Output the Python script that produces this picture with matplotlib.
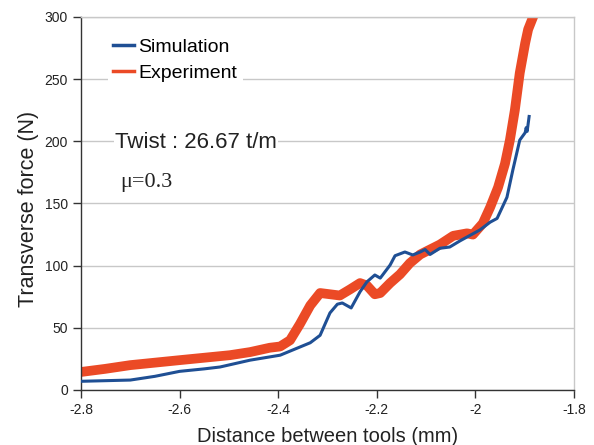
import matplotlib
matplotlib.use('Agg')
import matplotlib.pyplot as plt

# Simulation curve
sim_x = [-2.800, -2.700, -2.650, -2.600, -2.550, -2.518, -2.457, -2.396, -2.335,
         -2.315, -2.295, -2.280, -2.270, -2.252, -2.234, -2.220, -2.204, -2.193,
         -2.173, -2.163, -2.143, -2.127, -2.112, -2.102, -2.092, -2.072, -2.052,
         -2.031, -1.991, -1.970, -1.956, -1.936, -1.924, -1.910, -1.899, -1.897,
         -1.895, -1.891]
sim_y = [7, 8, 11, 15, 17, 18.5, 24, 28, 38,
         44, 62, 69, 70, 66, 79, 87, 92.5, 90,
         100.5, 108, 111, 108.6, 111, 113, 109, 114, 115,
         120, 128.7, 135, 138, 155, 177, 201, 207, 211,
         208, 220]

# Experiment curve (centre of the noisy band)
exp_x = [-2.800, -2.751, -2.700, -2.600, -2.498, -2.457, -2.417, -2.396, -2.376,
         -2.356, -2.335, -2.315, -2.295, -2.275, -2.254, -2.234, -2.220, -2.204,
         -2.193, -2.173, -2.153, -2.133, -2.112, -2.092, -2.072, -2.045, -2.017,
         -2.005, -1.985, -1.970, -1.954, -1.940, -1.930, -1.920, -1.910, -1.899,
         -1.893, -1.883]
exp_y = [14.5, 17, 20, 24, 28, 30.5, 34, 35, 40,
         53, 68, 78, 77, 76, 81, 86, 84, 77,
         78, 86, 93, 102, 109, 113, 117, 124, 126,
         125, 134, 147, 163, 182, 201, 225, 255, 279,
         290, 300]

x_ticks = [-2.8, -2.6, -2.4, -2.2, -2.0, -1.8]
x_labels = ['-2.8', '-2.6', '-2.4', '-2.2', '-2', '-1.8']
y_ticks = [0, 50, 100, 150, 200, 250, 300]

plt.rcParams['font.family'] = ['Liberation Sans', 'DejaVu Sans']

fig = plt.figure(figsize=(5.94, 4.45), dpi=100)
ax = fig.add_axes([0.1364, 0.1236, 0.8299, 0.8382])

ax.plot(exp_x, exp_y, color='#eb4a26', linewidth=7, label='Experiment',
        solid_joinstyle='round', zorder=2)
ax.plot(sim_x, sim_y, color='#1f4f94', linewidth=2.2, label='Simulation', zorder=3)

ax.set_xlim(-2.8, -1.8)
ax.set_ylim(0, 300)
ax.set_xticks(x_ticks)
ax.set_xticklabels(x_labels)
ax.set_yticks(y_ticks)
ax.tick_params(axis='both', direction='out', length=6, width=1, color='#333333',
               labelsize=10, labelcolor='#222222')
ax.grid(axis='y', color='#c8c8c8', linewidth=1)
ax.set_axisbelow(True)

for s in ['left', 'bottom']:
    ax.spines[s].set_color('#333333')
    ax.spines[s].set_linewidth(1)
for s in ['top', 'right']:
    ax.spines[s].set_color('#c8c8c8')
    ax.spines[s].set_linewidth(1)

ax.set_xlabel('Distance between tools (mm)', fontsize=14.5, labelpad=7, color='#222222')
ax.set_ylabel('Transverse force (N)', fontsize=15.5, labelpad=5, color='#222222')
ax.yaxis.set_label_coords(-0.085, 0.485)

handles, labels = ax.get_legend_handles_labels()
leg = ax.legend(handles[::-1], labels[::-1], loc='upper left',
                bbox_to_anchor=(0.034, 0.985), fontsize=14, frameon=True,
                fancybox=False, edgecolor='none', facecolor='white', framealpha=1,
                handlelength=1.05, handletextpad=0.25, labelspacing=0.42,
                borderpad=0.3)
for line in leg.get_lines():
    line.set_linewidth(2.5)

ax.text(-2.731, 198.7, 'Twist : 26.67 t/m', fontsize=16, va='center', ha='left',
        color='#222222',
        bbox=dict(facecolor='white', edgecolor='none', pad=1))
ax.text(-2.721, 166.5, '\u03bc=0.3', fontsize=16, va='center', ha='left',
        family=['Liberation Serif', 'DejaVu Serif'], color='#222222')

fig.savefig('out.png', dpi=100)
